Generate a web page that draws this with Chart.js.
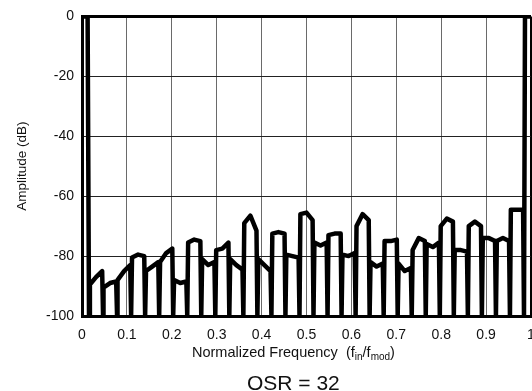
<!DOCTYPE html>
<html lang="en">
<head>
    <meta charset="UTF-8">
    <title>OSR = 32</title>
    <style>
        body {
            margin: 0;
            padding: 0;
            background: #fff;
            overflow: hidden;
            width: 532px;
            height: 391px;
            position: relative;
            font-family: "Liberation Sans", Arial, sans-serif;
            color: #111;
        }

        #chart {
            position: absolute;
            left: 0;
            top: 0;
        }

        .xtitle {
            position: absolute;
            left: 192px;
            top: 345px;
            font-size: 14.5px;
            line-height: 1;
            white-space: nowrap;
        }

        .xtitle sub {
            font-size: 10px;
            line-height: 0;
            vertical-align: -3px;
        }

        .osr {
            position: absolute;
            left: 247px;
            top: 372px;
            font-size: 21px;
            line-height: 1;
            white-space: nowrap;
        }
    </style>
</head>
<body>
    <canvas id="chart" width="560" height="391"></canvas>
    <div class="xtitle">Normalized Frequency&nbsp; (f<sub>in</sub>/f<sub>mod</sub>)</div>
    <div class="osr">OSR = 32</div>

    <script src="https://cdn.jsdelivr.net/npm/chart.js@4/dist/chart.umd.min.js"></script>
    <script>
    // frequencies of the stopband nulls (fin/fmod)
    var nullFreq = [0.0156, 0.0469, 0.0781, 0.1094, 0.1406, 0.1719, 0.2031, 0.2344,
                    0.2656, 0.2969, 0.3281, 0.3594, 0.3906, 0.4219, 0.4531, 0.4844,
                    0.5156, 0.5469, 0.5781, 0.6094, 0.6406, 0.6719, 0.7031, 0.7344,
                    0.7656, 0.7969, 0.8281, 0.8594, 0.8906, 0.9219, 0.9531, 0.9844];

    // level of each stopband lobe (dB): left edge, middle, right edge
    var lobeLeft  = [-89.5, -90.5, -88, -80.5, -85, -82, -88, -75.5, -81, -78, -81,
                     -69, -81, -72.5, -79.5, -66, -75.5, -73, -79.5, -70, -82, -75,
                     -82.5, -78, -76, -70, -78, -70, -74, -75, -64.5];
    var lobeMid   = [-87, -89, -85, -79.5, -83.5, -79, -89, -74.5, -83, -77.5, -83,
                     -66.5, -83, -72, -80, -65.5, -76.5, -72.5, -80, -66, -83.5, -75,
                     -85, -74, -77, -67.5, -78, -68.5, -74, -74, -64.5];
    var lobeRight = [-85, -88.5, -83, -80, -82, -77.5, -88.5, -75, -82, -75.5, -84.5,
                     -71.5, -85, -72.5, -80.5, -68, -75.5, -72.5, -79, -68, -82.5, -74.5,
                     -84, -75, -75.5, -68.5, -78.5, -70, -75, -75, -64.5];

    // passband at both ends (0 dB)
    var passLowFreq = [0, 0.0125];
    var passHighFreq = [0.9866, 1];
    var passLevel = 0;
    var floorLevel = -100;

    var xTicks = [0, 1, 0.1];      // min, max, step
    var yTicks = [-100, 0, 20];    // min, max, step

    var edge = 0.002;
    var points = [];
    passLowFreq.forEach(function(f) { points.push({x: f, y: passLevel}); });
    for (var i = 0; i < nullFreq.length; i++) {
        points.push({x: nullFreq[i], y: floorLevel});
        if (i < lobeLeft.length) {
            points.push({x: nullFreq[i] + edge, y: lobeLeft[i]});
            points.push({x: (nullFreq[i] + nullFreq[i + 1]) / 2, y: lobeMid[i]});
            points.push({x: nullFreq[i + 1] - edge, y: lobeRight[i]});
            points.push({x: nullFreq[i + 1], y: floorLevel});
        }
    }
    passHighFreq.forEach(function(f) { points.push({x: f, y: passLevel}); });

    var tickFont = {family: '"Liberation Sans", Arial, sans-serif', size: 14};

    new Chart(document.getElementById('chart').getContext('2d'), {
        type: 'line',
        data: {
            datasets: [{
                data: points,
                borderColor: '#000',
                borderWidth: 4.5,
                pointRadius: 0,
                tension: 0,
                borderJoinStyle: 'round'
            }]
        },
        options: {
            responsive: false,
            animation: false,
            events: [],
            layout: {padding: {top: 14, right: 29, bottom: 0, left: 0}},
            plugins: {legend: {display: false}, tooltip: {enabled: false}},
            scales: {
                x: {
                    type: 'linear',
                    min: xTicks[0],
                    max: xTicks[1],
                    afterFit: function(scale) { scale.height = 75; },
                    ticks: {
                        stepSize: xTicks[2],
                        color: '#111',
                        font: tickFont,
                        padding: 11,
                        maxRotation: 0,
                        callback: function(v) { return String(Math.round(v * 10) / 10); }
                    },
                    grid: {
                        drawTicks: false,
                        color: function(c) { return c.tick && c.tick.value === 1 ? '#000' : '#6a6a6a'; },
                        lineWidth: function(c) { return c.tick && c.tick.value === 1 ? 3 : 1; }
                    },
                    border: {display: true, color: '#000', width: 3}
                },
                y: {
                    min: yTicks[0],
                    max: yTicks[1],
                    afterFit: function(scale) { scale.width = 82; },
                    ticks: {stepSize: yTicks[2], color: '#111', font: tickFont, padding: 8},
                    grid: {
                        drawTicks: false,
                        color: function(c) { return c.tick && c.tick.value === 0 ? '#000' : '#222'; },
                        lineWidth: function(c) { return c.tick && c.tick.value === 0 ? 3 : 1; }
                    },
                    border: {display: true, color: '#000', width: 3},
                    title: {
                        display: true,
                        text: 'Amplitude (dB)',
                        color: '#111',
                        font: {family: '"Liberation Sans", Arial, sans-serif', size: 13.5},
                        padding: {top: 14, bottom: 0}
                    }
                }
            }
        }
    });
    </script>
</body>
</html>
